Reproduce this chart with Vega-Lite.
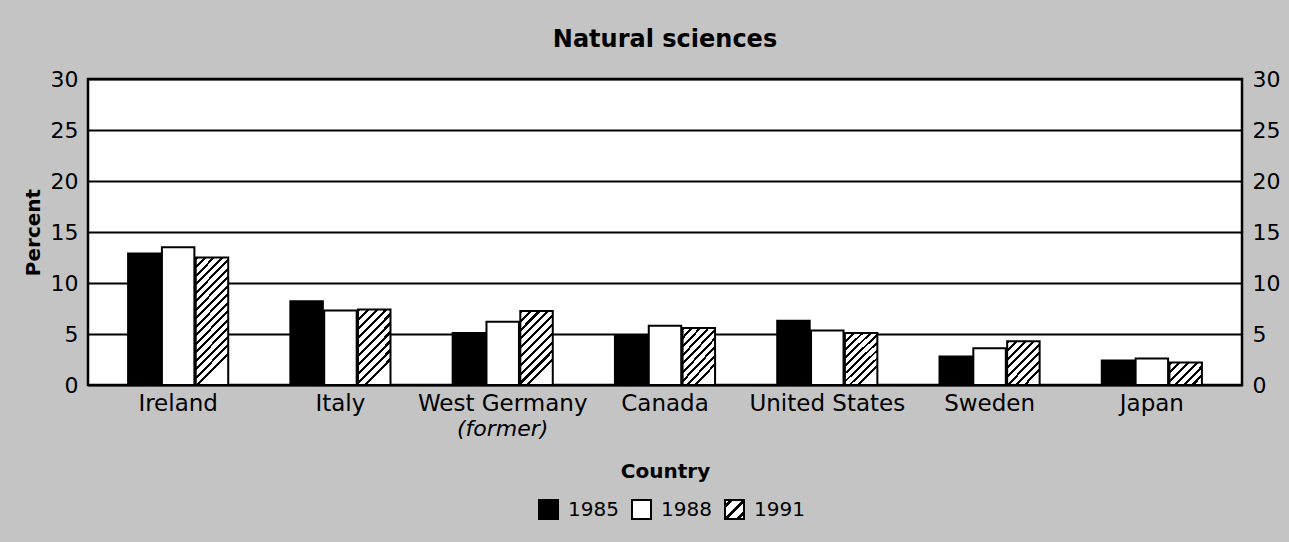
{
  "$schema": "https://vega.github.io/schema/vega-lite/v6.json",
  "width": 1154,
  "height": 306,
  "autosize": {"type": "none"},
  "padding": {"left": 88, "top": 79, "right": 47, "bottom": 157},
  "background": "#c4c4c4",
  "config": {
    "font": "DejaVu Sans",
    "view": {"stroke": "black", "strokeWidth": 2.5, "fill": "white"},
    "axis": {"labelColor": "black", "titleColor": "black", "labelFont": "DejaVu Sans", "titleFont": "DejaVu Sans"},
    "legend": {"padding": 0}
  },
  "title": {
    "text": "Natural sciences",
    "fontSize": 24,
    "fontWeight": "bold",
    "color": "black",
    "anchor": "middle",
    "offset": 16
  },
  "data": {
    "values": [
      {"country": "Ireland", "year": "1985", "value": 12.9},
      {"country": "Ireland", "year": "1988", "value": 13.5},
      {"country": "Ireland", "year": "1991", "value": 12.5},
      {"country": "Italy", "year": "1985", "value": 8.2},
      {"country": "Italy", "year": "1988", "value": 7.3},
      {"country": "Italy", "year": "1991", "value": 7.4},
      {"country": "West Germany", "year": "1985", "value": 5.1},
      {"country": "West Germany", "year": "1988", "value": 6.2},
      {"country": "West Germany", "year": "1991", "value": 7.25},
      {"country": "Canada", "year": "1985", "value": 4.9},
      {"country": "Canada", "year": "1988", "value": 5.8},
      {"country": "Canada", "year": "1991", "value": 5.6},
      {"country": "United States", "year": "1985", "value": 6.3},
      {"country": "United States", "year": "1988", "value": 5.35},
      {"country": "United States", "year": "1991", "value": 5.1},
      {"country": "Sweden", "year": "1985", "value": 2.8},
      {"country": "Sweden", "year": "1988", "value": 3.6},
      {"country": "Sweden", "year": "1991", "value": 4.3},
      {"country": "Japan", "year": "1985", "value": 2.4},
      {"country": "Japan", "year": "1988", "value": 2.6},
      {"country": "Japan", "year": "1991", "value": 2.2}
    ]
  },
  "layer": [
    {
      "mark": {"type": "bar", "stroke": "black", "strokeWidth": 2},
      "encoding": {
        "x": {
          "field": "country",
          "type": "nominal",
          "sort": null,
          "scale": {"paddingInner": 0.383, "paddingOuter": 0.247},
          "axis": {
            "title": "Country",
            "titleFontSize": 20,
            "titleFontWeight": "bold",
            "titlePadding": 46,
            "labelFontSize": 23,
            "labelAngle": 0,
            "labelPadding": 7,
            "ticks": false,
            "domain": false
          }
        },
        "xOffset": {"field": "year", "type": "nominal", "scale": {"paddingInner": 0.04}},
        "y": {
          "field": "value",
          "type": "quantitative",
          "scale": {"domain": [0, 30], "nice": false},
          "axis": {
            "title": "Percent",
            "titleFontSize": 20,
            "titleFontWeight": "bold",
            "titlePadding": 7,
            "values": [0, 5, 10, 15, 20, 25, 30],
            "labelFontSize": 22,
            "labelPadding": 10,
            "ticks": false,
            "domain": false,
            "grid": true,
            "gridColor": "black",
            "gridWidth": 2,
            "gridOpacity": 1
          }
        },
        "fill": {
          "condition": [
            {"test": "datum.year === '1985'", "value": "black"},
            {"test": "datum.year === '1988'", "value": "white"},
            {"test": "datum.value > 10", "value": {"gradient": "linear", "x1": 0, "y1": 0, "x2": 0.26, "y2": 1, "stops": [
              {"offset": 0, "color": "black"}, {"offset": 0.022, "color": "black"}, {"offset": 0.022, "color": "white"}, {"offset": 0.0625, "color": "white"},
              {"offset": 0.0625, "color": "black"}, {"offset": 0.0845, "color": "black"}, {"offset": 0.0845, "color": "white"}, {"offset": 0.125, "color": "white"},
              {"offset": 0.125, "color": "black"}, {"offset": 0.147, "color": "black"}, {"offset": 0.147, "color": "white"}, {"offset": 0.1875, "color": "white"},
              {"offset": 0.1875, "color": "black"}, {"offset": 0.2095, "color": "black"}, {"offset": 0.2095, "color": "white"}, {"offset": 0.25, "color": "white"},
              {"offset": 0.25, "color": "black"}, {"offset": 0.272, "color": "black"}, {"offset": 0.272, "color": "white"}, {"offset": 0.3125, "color": "white"},
              {"offset": 0.3125, "color": "black"}, {"offset": 0.3345, "color": "black"}, {"offset": 0.3345, "color": "white"}, {"offset": 0.375, "color": "white"},
              {"offset": 0.375, "color": "black"}, {"offset": 0.397, "color": "black"}, {"offset": 0.397, "color": "white"}, {"offset": 0.4375, "color": "white"},
              {"offset": 0.4375, "color": "black"}, {"offset": 0.4595, "color": "black"}, {"offset": 0.4595, "color": "white"}, {"offset": 0.5, "color": "white"},
              {"offset": 0.5, "color": "black"}, {"offset": 0.522, "color": "black"}, {"offset": 0.522, "color": "white"}, {"offset": 0.5625, "color": "white"},
              {"offset": 0.5625, "color": "black"}, {"offset": 0.5845, "color": "black"}, {"offset": 0.5845, "color": "white"}, {"offset": 0.625, "color": "white"},
              {"offset": 0.625, "color": "black"}, {"offset": 0.647, "color": "black"}, {"offset": 0.647, "color": "white"}, {"offset": 0.6875, "color": "white"},
              {"offset": 0.6875, "color": "black"}, {"offset": 0.7095, "color": "black"}, {"offset": 0.7095, "color": "white"}, {"offset": 0.75, "color": "white"},
              {"offset": 0.75, "color": "black"}, {"offset": 0.772, "color": "black"}, {"offset": 0.772, "color": "white"}, {"offset": 0.8125, "color": "white"},
              {"offset": 0.8125, "color": "black"}, {"offset": 0.8345, "color": "black"}, {"offset": 0.8345, "color": "white"}, {"offset": 0.875, "color": "white"},
              {"offset": 0.875, "color": "black"}, {"offset": 0.897, "color": "black"}, {"offset": 0.897, "color": "white"}, {"offset": 0.9375, "color": "white"},
              {"offset": 0.9375, "color": "black"}, {"offset": 0.9595, "color": "black"}, {"offset": 0.9595, "color": "white"}, {"offset": 1, "color": "white"}
            ]}},
            {"test": "datum.value > 6.5", "value": {"gradient": "linear", "x1": 0, "y1": 0, "x2": 0.44, "y2": 1, "stops": [
              {"offset": 0, "color": "black"}, {"offset": 0.035, "color": "black"}, {"offset": 0.035, "color": "white"}, {"offset": 0.1, "color": "white"},
              {"offset": 0.1, "color": "black"}, {"offset": 0.135, "color": "black"}, {"offset": 0.135, "color": "white"}, {"offset": 0.2, "color": "white"},
              {"offset": 0.2, "color": "black"}, {"offset": 0.235, "color": "black"}, {"offset": 0.235, "color": "white"}, {"offset": 0.3, "color": "white"},
              {"offset": 0.3, "color": "black"}, {"offset": 0.335, "color": "black"}, {"offset": 0.335, "color": "white"}, {"offset": 0.4, "color": "white"},
              {"offset": 0.4, "color": "black"}, {"offset": 0.435, "color": "black"}, {"offset": 0.435, "color": "white"}, {"offset": 0.5, "color": "white"},
              {"offset": 0.5, "color": "black"}, {"offset": 0.535, "color": "black"}, {"offset": 0.535, "color": "white"}, {"offset": 0.6, "color": "white"},
              {"offset": 0.6, "color": "black"}, {"offset": 0.635, "color": "black"}, {"offset": 0.635, "color": "white"}, {"offset": 0.7, "color": "white"},
              {"offset": 0.7, "color": "black"}, {"offset": 0.735, "color": "black"}, {"offset": 0.735, "color": "white"}, {"offset": 0.8, "color": "white"},
              {"offset": 0.8, "color": "black"}, {"offset": 0.835, "color": "black"}, {"offset": 0.835, "color": "white"}, {"offset": 0.9, "color": "white"},
              {"offset": 0.9, "color": "black"}, {"offset": 0.935, "color": "black"}, {"offset": 0.935, "color": "white"}, {"offset": 1, "color": "white"}
            ]}},
            {"test": "datum.value > 4.8", "value": {"gradient": "linear", "x1": 0, "y1": 0, "x2": 0.6, "y2": 1, "stops": [
              {"offset": 0, "color": "black"}, {"offset": 0.039, "color": "black"}, {"offset": 0.039, "color": "white"}, {"offset": 0.1111, "color": "white"},
              {"offset": 0.1111, "color": "black"}, {"offset": 0.15, "color": "black"}, {"offset": 0.15, "color": "white"}, {"offset": 0.2222, "color": "white"},
              {"offset": 0.2222, "color": "black"}, {"offset": 0.2611, "color": "black"}, {"offset": 0.2611, "color": "white"}, {"offset": 0.3333, "color": "white"},
              {"offset": 0.3333, "color": "black"}, {"offset": 0.3722, "color": "black"}, {"offset": 0.3722, "color": "white"}, {"offset": 0.4444, "color": "white"},
              {"offset": 0.4444, "color": "black"}, {"offset": 0.4833, "color": "black"}, {"offset": 0.4833, "color": "white"}, {"offset": 0.5556, "color": "white"},
              {"offset": 0.5556, "color": "black"}, {"offset": 0.5944, "color": "black"}, {"offset": 0.5944, "color": "white"}, {"offset": 0.6667, "color": "white"},
              {"offset": 0.6667, "color": "black"}, {"offset": 0.7056, "color": "black"}, {"offset": 0.7056, "color": "white"}, {"offset": 0.7778, "color": "white"},
              {"offset": 0.7778, "color": "black"}, {"offset": 0.8167, "color": "black"}, {"offset": 0.8167, "color": "white"}, {"offset": 0.8889, "color": "white"},
              {"offset": 0.8889, "color": "black"}, {"offset": 0.9278, "color": "black"}, {"offset": 0.9278, "color": "white"}, {"offset": 1, "color": "white"}
            ]}},
            {"test": "datum.value > 3", "value": {"gradient": "linear", "x1": 0, "y1": 0, "x2": 0.75, "y2": 1, "stops": [
              {"offset": 0, "color": "black"}, {"offset": 0.044, "color": "black"}, {"offset": 0.044, "color": "white"}, {"offset": 0.125, "color": "white"},
              {"offset": 0.125, "color": "black"}, {"offset": 0.169, "color": "black"}, {"offset": 0.169, "color": "white"}, {"offset": 0.25, "color": "white"},
              {"offset": 0.25, "color": "black"}, {"offset": 0.294, "color": "black"}, {"offset": 0.294, "color": "white"}, {"offset": 0.375, "color": "white"},
              {"offset": 0.375, "color": "black"}, {"offset": 0.419, "color": "black"}, {"offset": 0.419, "color": "white"}, {"offset": 0.5, "color": "white"},
              {"offset": 0.5, "color": "black"}, {"offset": 0.544, "color": "black"}, {"offset": 0.544, "color": "white"}, {"offset": 0.625, "color": "white"},
              {"offset": 0.625, "color": "black"}, {"offset": 0.669, "color": "black"}, {"offset": 0.669, "color": "white"}, {"offset": 0.75, "color": "white"},
              {"offset": 0.75, "color": "black"}, {"offset": 0.794, "color": "black"}, {"offset": 0.794, "color": "white"}, {"offset": 0.875, "color": "white"},
              {"offset": 0.875, "color": "black"}, {"offset": 0.919, "color": "black"}, {"offset": 0.919, "color": "white"}, {"offset": 1, "color": "white"}
            ]}}
          ],
          "value": {"gradient": "linear", "x1": 0, "y1": 0, "x2": 1.47, "y2": 1, "stops": [
            {"offset": 0, "color": "black"}, {"offset": 0.044, "color": "black"}, {"offset": 0.044, "color": "white"}, {"offset": 0.125, "color": "white"},
            {"offset": 0.125, "color": "black"}, {"offset": 0.169, "color": "black"}, {"offset": 0.169, "color": "white"}, {"offset": 0.25, "color": "white"},
            {"offset": 0.25, "color": "black"}, {"offset": 0.294, "color": "black"}, {"offset": 0.294, "color": "white"}, {"offset": 0.375, "color": "white"},
            {"offset": 0.375, "color": "black"}, {"offset": 0.419, "color": "black"}, {"offset": 0.419, "color": "white"}, {"offset": 0.5, "color": "white"},
            {"offset": 0.5, "color": "black"}, {"offset": 0.544, "color": "black"}, {"offset": 0.544, "color": "white"}, {"offset": 0.625, "color": "white"},
            {"offset": 0.625, "color": "black"}, {"offset": 0.669, "color": "black"}, {"offset": 0.669, "color": "white"}, {"offset": 0.75, "color": "white"},
            {"offset": 0.75, "color": "black"}, {"offset": 0.794, "color": "black"}, {"offset": 0.794, "color": "white"}, {"offset": 0.875, "color": "white"},
            {"offset": 0.875, "color": "black"}, {"offset": 0.919, "color": "black"}, {"offset": 0.919, "color": "white"}, {"offset": 1, "color": "white"}
          ]}
        }
      }
    },
    {
      "mark": {"type": "point", "opacity": 0, "stroke": "black", "filled": true},
      "encoding": {
        "x": {
          "field": "country",
          "type": "nominal",
          "sort": null,
          "axis": {
            "orient": "bottom",
            "title": null,
            "labelFontSize": 22,
            "labelFontStyle": "italic",
            "labelAngle": 0,
            "labelPadding": 33,
            "labelExpr": "datum.value === 'West Germany' ? '(former)' : ''",
            "ticks": false,
            "domain": false,
            "grid": false
          }
        },
        "y": {
          "field": "value",
          "type": "quantitative",
          "scale": {"domain": [0, 30], "nice": false},
          "axis": {
            "orient": "right",
            "title": null,
            "values": [0, 5, 10, 15, 20, 25, 30],
            "labelFontSize": 22,
            "labelPadding": 10,
            "ticks": false,
            "domain": false,
            "grid": false
          }
        },
        "fill": {
          "field": "year",
          "type": "nominal",
          "scale": {"domain": ["1985", "1988", "1991"], "range": ["black", "white", {"expr": "{gradient: 'linear', x1: 0, y1: 0, x2: 1, y2: 1, stops: [{offset: 0, color: 'white'}, {offset: 0.11, color: 'white'}, {offset: 0.11, color: 'black'}, {offset: 0.22, color: 'black'}, {offset: 0.22, color: 'white'}, {offset: 0.45, color: 'white'}, {offset: 0.45, color: 'black'}, {offset: 0.56, color: 'black'}, {offset: 0.56, color: 'white'}, {offset: 0.78, color: 'white'}, {offset: 0.78, color: 'black'}, {offset: 0.89, color: 'black'}, {offset: 0.89, color: 'white'}, {offset: 1, color: 'white'}]}"}]},
          "legend": {
            "title": null,
            "orient": "none",
            "direction": "horizontal",
            "legendX": 450,
            "legendY": 420,
            "symbolType": "square",
            "symbolSize": 361,
            "symbolStrokeColor": "black",
            "symbolStrokeWidth": 2,
            "symbolOpacity": 1,
            "labelFontSize": 20,
            "labelColor": "black",
            "labelOffset": 9,
            "columnPadding": 9
          }
        }
      }
    }
  ],
  "resolve": {"axis": {"y": "independent", "x": "independent"}}
}
